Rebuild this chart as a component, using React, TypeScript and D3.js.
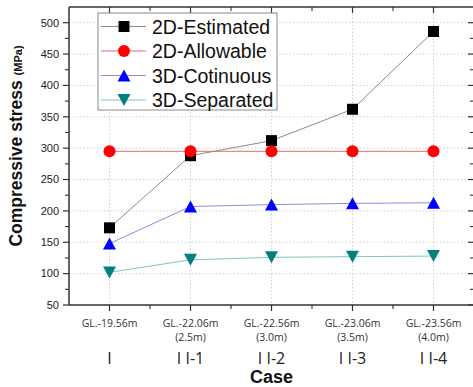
import React from "react";
import * as d3 from "d3";

const caseIdx = [1, 2, 3, 4, 5];
const depthLabels = ["GL.-19.56m", "GL.-22.06m", "GL.-22.56m", "GL.-23.06m", "GL.-23.56m"];
const gapLabels = ["", "(2.5m)", "(3.0m)", "(3.5m)", "(4.0m)"];
const caseLabels = ["I", "I I-1", "I I-2", "I I-3", "I I-4"];
const estimated2D = [173, 288, 312, 362, 486];
const allowable2D = [295, 295, 295, 295, 295];
const continuous3D = [148, 207, 210, 212, 213];
const separated3D = [102, 122, 126, 127, 128];
const yTicks = [50, 100, 150, 200, 250, 300, 350, 400, 450, 500];
const seriesNames = ["2D-Estimated", "2D-Allowable", "3D-Cotinuous", "3D-Separated"];

const W = 473, H = 387;
const L = 69, R = 474, T = 7, B = 305;

const x = d3.scaleLinear().domain([0.5, 5.5]).range([L, R]);
const y = d3.scaleLinear().domain([50, 525]).range([B, T]);

type Shape = "square" | "circle" | "up" | "down";
const series = [
  { name: seriesNames[0], values: estimated2D, line: "#8a8a8a", fill: "#000000", shape: "square" as Shape },
  { name: seriesNames[1], values: allowable2D, line: "#e06a6a", fill: "#ff0000", shape: "circle" as Shape },
  { name: seriesNames[2], values: continuous3D, line: "#8c8ce0", fill: "#0000ff", shape: "up" as Shape },
  { name: seriesNames[3], values: separated3D, line: "#7cc8c0", fill: "#008080", shape: "down" as Shape },
];

function Marker({ shape, cx, cy, fill }: { shape: Shape; cx: number; cy: number; fill: string }) {
  if (shape === "square") return <rect x={cx - 5.5} y={cy - 5.5} width={11} height={11} fill={fill} />;
  if (shape === "circle") return <circle cx={cx} cy={cy} r={6} fill={fill} />;
  const w = 13, h = 12;
  if (shape === "up")
    return <path d={`M${cx},${cy - h / 2}L${cx + w / 2},${cy + h / 2}L${cx - w / 2},${cy + h / 2}Z`} fill={fill} />;
  return <path d={`M${cx},${cy + h / 2}L${cx + w / 2},${cy - h / 2}L${cx - w / 2},${cy - h / 2}Z`} fill={fill} />;
}

const sansStyle = { fontFamily: "'Open Sans', 'DejaVu Sans', sans-serif" };
const arialStyle = { fontFamily: "'Liberation Sans', Arial, sans-serif" };

export default function App() {
  const line = d3.line<number>().x((_, i) => x(caseIdx[i])).y((d) => y(d));
  const minorY = d3.range(75, 525, 50);
  const minorX = d3.range(1.5, 5.5, 1);
  const axisColor = "#333";
  return (
    <div style={{ position: "absolute", left: 0, top: 0 }}>
      <svg width={W} height={H} style={{ display: "block", ...arialStyle }}>
        <rect x={0} y={0} width={W} height={H} fill="#fff" />
        {/* grid */}
        {yTicks.slice(1).map((t) => (
          <line key={"gy" + t} x1={L} x2={R} y1={y(t)} y2={y(t)} stroke="#d0d0d0" strokeDasharray="1.5,2" />
        ))}
        {caseIdx.map((c) => (
          <line key={"gx" + c} x1={x(c)} x2={x(c)} y1={T} y2={B} stroke="#d0d0d0" strokeDasharray="1.5,2" />
        ))}
        {/* frame */}
        <line x1={L} x2={R} y1={T} y2={T} stroke={axisColor} strokeWidth={1.3} />
        <line x1={R} x2={R} y1={T} y2={B} stroke={axisColor} strokeWidth={1.3} />
        <line x1={L} x2={L} y1={T} y2={B} stroke={axisColor} strokeWidth={1.5} />
        <line x1={L} x2={R} y1={B} y2={B} stroke={axisColor} strokeWidth={1.5} />
        {/* left ticks */}
        {yTicks.map((t) => (
          <g key={"yt" + t}>
            <line x1={L - 6} x2={L} y1={y(t)} y2={y(t)} stroke={axisColor} strokeWidth={1.2} />
            <line x1={R - 6} x2={R} y1={y(t)} y2={y(t)} stroke={axisColor} strokeWidth={1.2} />
            <text x={L - 10} y={y(t)} dy="0.35em" textAnchor="end" fontSize={11} fill="#222" style={arialStyle}>
              {t}
            </text>
          </g>
        ))}
        {minorY.map((t) => (
          <g key={"ym" + t}>
            <line x1={L - 4} x2={L} y1={y(t)} y2={y(t)} stroke={axisColor} strokeWidth={1.1} />
            <line x1={R - 4} x2={R} y1={y(t)} y2={y(t)} stroke={axisColor} strokeWidth={1.1} />
          </g>
        ))}
        {/* x ticks */}
        {caseIdx.map((c) => (
          <g key={"xt" + c}>
            <line x1={x(c)} x2={x(c)} y1={B} y2={B + 6} stroke={axisColor} strokeWidth={1.2} />
            <line x1={x(c)} x2={x(c)} y1={T} y2={T + 6} stroke={axisColor} strokeWidth={1.2} />
          </g>
        ))}
        {minorX.map((c) => (
          <g key={"xm" + c}>
            <line x1={x(c)} x2={x(c)} y1={B} y2={B + 4} stroke={axisColor} strokeWidth={1.1} />
            <line x1={x(c)} x2={x(c)} y1={T} y2={T + 4} stroke={axisColor} strokeWidth={1.1} />
          </g>
        ))}
        {/* x labels */}
        {caseIdx.map((c, i) => (
          <g key={"xl" + c}>
            <text x={x(c)} y={323} dy="0.35em" textAnchor="middle" fontSize={10.5} fill="#333" style={sansStyle}>
              {depthLabels[i]}
            </text>
            {gapLabels[i] && (
              <text x={x(c)} y={337} dy="0.35em" textAnchor="middle" fontSize={10.5} fill="#333" style={sansStyle}>
                {gapLabels[i]}
              </text>
            )}
            <text x={x(c)} y={358} dy="0.35em" textAnchor="middle" fontSize={16} fill="#222" style={sansStyle}>
              {caseLabels[i]}
            </text>
          </g>
        ))}
        <text x={(L + R) / 2} y={377} dy="0.35em" textAnchor="middle" fontSize={18} fontWeight="bold" fill="#111" style={arialStyle}>
          Case
        </text>
        {/* y label */}
        <text
          transform={`translate(22,146) rotate(-90)`}
          textAnchor="middle"
          fontSize={17.5}
          fontWeight="bold"
          fill="#111"
          style={arialStyle}
        >
          Compressive stress <tspan fontSize={11}>(MPa)</tspan>
        </text>
        {/* series */}
        {series.map((s) => (
          <path key={"l" + s.name} d={line(s.values) || ""} fill="none" stroke={s.line} strokeWidth={1} />
        ))}
        {series.map((s) =>
          s.values.map((v, i) => (
            <Marker key={s.name + i} shape={s.shape} cx={x(caseIdx[i])} cy={y(v)} fill={s.fill} />
          ))
        )}
        {/* legend */}
        <rect x={98} y={13} width={179} height={97} fill="#fff" stroke="#8a8a8a" strokeWidth={1} />
        {series.map((s, i) => {
          const ly = 26.5 + i * 24.5;
          return (
            <g key={"lg" + s.name}>
              <line x1={101} x2={146} y1={ly} y2={ly} stroke={s.line} strokeWidth={1} />
              <Marker shape={s.shape} cx={124} cy={ly} fill={s.fill} />
              <text x={152} y={ly} dy="0.36em" fontSize={19.5} fill="#111" style={arialStyle}>
                {s.name}
              </text>
            </g>
          );
        })}
      </svg>
    </div>
  );
}
